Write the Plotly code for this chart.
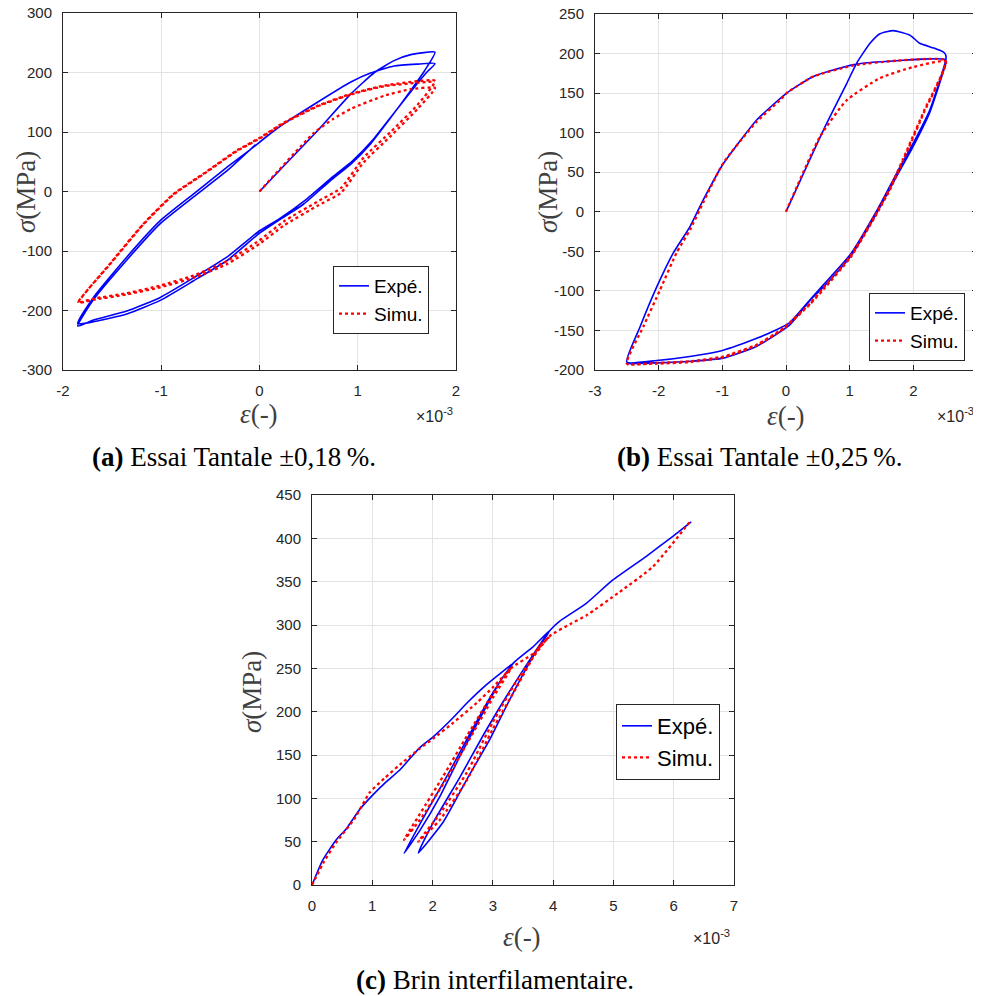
import plotly.graph_objects as go

# strain values are in units of 1e-3, stress in MPa

# (a) Essai Tantale +/-0,18 %
a_exp_eps = [0, 0.3, 0.59, 0.93, 1.17, 1.37, 1.54, 1.786,
             1.68, 1.54, 1.34, 1.13, 0.93, 0.72, 0.45, 0.18, 0.0, -0.33, -0.67, -1.01, -1.35, -1.69, -1.85,
             -1.69, -1.35, -1.01, -0.67, -0.33, -0.09, 0.07, 0.25, 0.59, 0.93, 1.13, 1.37, 1.6, 1.786,
             1.70, 1.56, 1.36, 1.15, 0.95, 0.74, 0.47, 0.2, 0.0, -0.33, -0.67, -1.01, -1.35, -1.69, -1.85,
             -1.7, -1.35, -1.01, -0.67, -0.33, -0.04]
a_exp_sig = [0, 52, 102, 164, 200, 220, 230, 234,
             203, 170, 125, 80, 46, 18, -21, -50, -70, -116, -150, -183, -206, -219, -222,
             -178, -110, -49, -4, 41, 71, 92, 114, 150, 184, 199, 211, 214, 215,
             200, 172, 130, 86, 52, 24, -14, -46, -66, -110, -145, -178, -201, -216, -226,
             -184, -115, -54, -9, 35, 79]

a_sim_eps = [0, 0.55, 0.75, 0.93, 1.27, 1.54, 1.786,
             1.61, 1.34, 1.06, 0.83, 0.59, 0.25, 0.0, -0.33, -0.67, -1.01, -1.35, -1.69, -1.844,
             -1.52, -1.18, -0.874, -0.57, -0.23, 0.0, 0.25, 0.59, 0.93, 1.27, 1.786,
             1.61, 1.34, 1.06, 0.83, 0.59, 0.25, 0.0, -0.33, -0.67, -1.01, -1.35, -1.69, -1.844,
             -1.52, -1.18, -0.874, -0.57, -0.23, 0.0, 0.25, 0.59, 0.93, 1.27, 1.786]
a_sim_sig = [0, 98, 122, 139, 161, 172, 174,
             139, 94, 49, -2, -24, -57, -88, -122, -145, -161, -173, -182, -187,
             -121, -54, -4, 30, 69, 90, 116, 144, 164, 178, 186,
             146, 101, 57, 6, -17, -50, -82, -117, -141, -158, -171, -180, -186,
             -122, -55, -5, 29, 68, 89, 115, 143, 163, 177, 185]

# (b) Essai Tantale +/-0,25 %
b_exp_eps = [0, 0.586, 0.953, 1.11, 1.32, 1.476, 1.686, 1.95, 2.1, 2.32, 2.47, 2.51, 2.51,
             2.45, 2.26, 2.0, 1.74, 1.43, 1.01, 0.59, 0.38, 0.06, -0.2, -0.46, -0.985, -1.51, -2.03, -2.50,
             -2.29, -2.03, -1.77, -1.51, -1.3, -0.99, -0.46, 0.01, 0.43, 1.06, 1.74, 2.51,
             2.45, 2.26, 2.0, 1.74, 1.43, 1.01, 0.59, 0.377, 0.06, -0.46, -0.985, -1.51, -2.03, -2.50]
b_exp_sig = [0, 103, 162, 188, 213, 225, 229, 223, 213, 207, 202, 198, 192,
             175, 129, 87, 49, 2, -54, -92, -111, -140, -151, -160, -175, -183, -188, -190,
             -145, -95, -52, -19, 15, 60, 116, 150, 171, 186, 191, 192,
             172, 126, 83, 45, -1, -57, -95, -112, -143, -170, -185, -189, -191, -192]

b_sim_eps = [0, 0.534, 0.953, 1.476, 2.0, 2.51,
             2.17, 1.9, 1.64, 1.38, 1.01, 0.59, 0.377, -0.04, -0.46, -0.985, -1.51, -2.03, -2.50,
             -2.24, -1.98, -1.72, -1.51, -0.99, -0.46, -0.094, 0.01, 0.43, 1.06, 1.74, 2.51,
             2.17, 1.9, 1.64, 1.38, 1.01, 0.59, 0.377, -0.04, -0.46, -0.985, -1.51, -2.03, -2.50]
b_sim_sig = [0, 95, 141, 169, 183, 190,
             128, 78, 31, -7, -56, -96, -116, -147, -168, -183, -189, -191, -192,
             -145, -99, -52, -23, 61, 114, 141, 150, 171, 185, 191, 191,
             126, 76, 29, -9, -58, -98, -117, -148, -169, -184, -190, -192, -193]

# (c) Brin interfilamentaire
c_exp_eps = [0, 0.18, 0.4, 0.57, 0.79, 1.01, 1.23, 1.46, 1.78, 2.01, 2.34, 2.57, 2.89, 3.12, 3.34,
             3.12, 2.73, 2.45, 2.12, 1.79, 1.526,
             1.9, 2.29, 2.67, 3.0, 3.34,
             3.67, 3.95,
             3.67, 3.28, 2.95, 2.57, 2.18, 1.763,
             2.01, 2.45, 2.9, 3.4, 3.95,
             4.1, 4.55, 4.99, 5.54, 5.98, 6.29]
c_exp_sig = [0, 29, 52, 65, 87, 104, 119, 133, 158, 171, 193, 210, 231, 244, 256,
             235, 185, 148, 102, 63, 36.5,
             84, 132, 181, 222, 256,
             275, 294,
             264, 214, 168, 122, 73, 37,
             72, 124, 180, 237, 294,
             304, 325, 352, 379, 402, 419]

c_sim_eps = [0, 0.2, 0.4, 0.7, 0.96, 1.2, 1.46, 1.78, 2.01, 2.34, 2.73, 3.0, 3.3,
             3.01, 2.57, 2.18, 1.79, 1.526,
             1.79, 2.18, 2.57, 3.01, 3.3,
             3.67, 3.94,
             3.78, 3.4, 3.0, 2.57, 2.12, 1.763,
             2.12, 2.57, 3.0, 3.4, 3.94,
             4.28, 4.55, 5.1, 5.65, 6.29]
c_sim_sig = [0, 27, 49, 76, 107, 123, 139, 157, 169, 187, 210, 228, 250,
             217, 163, 117, 75, 52,
             82, 126, 172, 222, 250,
             267, 287,
             276, 229, 180, 121, 75, 50,
             82, 130, 188, 236, 287,
             301, 311, 338, 367, 421]

# the page body adds an 8 px margin, so the figure is a bit smaller and
# page pixel positions are shifted by that margin
PAD = 8
W, H = 981 - PAD, 996 - PAD


def fx(x):
    return (x - PAD) / W


def fy(y):
    return 1 - (y - PAD) / H


BLUE = "#0000ff"
RED = "#ff0000"
AX = "#262626"

fig = go.Figure()

panels = [
    ("x", "y", "legend", a_exp_eps, a_exp_sig, a_sim_eps, a_sim_sig),
    ("x2", "y2", "legend2", b_exp_eps, b_exp_sig, b_sim_eps, b_sim_sig),
    ("x3", "y3", "legend3", c_exp_eps, c_exp_sig, c_sim_eps, c_sim_sig),
]
for xa, ya, lg, ex, ey, sx, sy in panels:
    fig.add_trace(go.Scatter(x=ex, y=ey, mode="lines", name="Expé.", xaxis=xa, yaxis=ya,
                             legend=lg, line=dict(color=BLUE, width=1.6, shape="spline", smoothing=0.5)))
    fig.add_trace(go.Scatter(x=sx, y=sy, mode="lines", name="Simu.", xaxis=xa, yaxis=ya,
                             legend=lg, line=dict(color=RED, width=2.3, dash="dot",
                                                  shape="spline", smoothing=0.5)))


def axis(domain, rng, step, anchor, standoff):
    vals = list(range(rng[0], rng[1] + 1, step))
    return dict(
        domain=domain, range=rng, anchor=anchor,
        tickvals=vals, ticktext=[str(v) for v in vals],
        showline=True, linecolor=AX, linewidth=1, mirror="ticks",
        ticks="inside", ticklen=5, tickcolor=AX,
        showgrid=True, gridcolor="#e3e3e3", gridwidth=1, zeroline=False,
        tickfont=dict(family="Liberation Sans", size=15, color=AX),
        automargin=False, ticklabelstandoff=standoff, ticklabeloverflow="allow",
    )


def legend(x, y, size):
    return dict(
        x=fx(x), y=fy(y), xanchor="left", yanchor="top",
        bgcolor="white", bordercolor="#262626", borderwidth=1,
        font=dict(family="Liberation Sans", size=size, color="black"),
        itemwidth=30, tracegroupgap=0,
    )


fig.update_layout(
    width=W, height=H,
    margin=dict(l=0, r=0, t=0, b=0),
    paper_bgcolor="white", plot_bgcolor="white",
    xaxis=axis([fx(63), fx(456)], [-2, 2], 1, "y", 7),
    yaxis=axis([fy(370), fy(13)], [-300, 300], 100, "x", 7),
    xaxis2=axis([fx(595), fx(977)], [-3, 3], 1, "y2", 7),
    yaxis2=axis([fy(370), fy(14)], [-200, 250], 50, "x2", 7),
    xaxis3=axis([fx(312), fx(734)], [0, 7], 1, "y3", 7),
    yaxis3=axis([fy(885), fy(495)], [0, 450], 50, "x3", 7),
    legend=legend(333, 266, 19),
    legend2=legend(869, 293, 19),
    legend3=legend(616, 704, 22),
)

LBL = dict(family="Liberation Serif", size=27, color="#404040")
notes = [
    # (x, y, text, angle)
    (26, 192, "<i>σ</i>(MPa)", -90),
    (259, 414, "<i>ε</i>(-)", 0),
    (548, 192, "<i>σ</i>(MPa)", -90),
    (786, 416, "<i>ε</i>(-)", 0),
    (252, 692, "<i>σ</i>(MPa)", -90),
    (522, 937, "<i>ε</i>(-)", 0),
]
for x, y, t, ang in notes:
    fig.add_annotation(x=fx(x), y=fy(y), xref="paper", yref="paper", text=t, showarrow=False,
                       font=LBL, textangle=ang, xanchor="center", yanchor="middle")

EXP = dict(family="Liberation Sans", size=16, color=AX)
for x, y in [(434, 415), (955, 415), (711, 937)]:
    fig.add_annotation(x=fx(x), y=fy(y), xref="paper", yref="paper", text="×10<sup>-3</sup>",
                       showarrow=False, font=EXP, xanchor="center", yanchor="middle")

CAP = dict(family="Liberation Serif", size=27, color="black")
captions = [
    (234, 457, "<b>(a)</b> Essai Tantale ±0,18\u202f%."),
    (760, 457, "<b>(b)</b> Essai Tantale ±0,25\u202f%."),
    (495, 980, "<b>(c)</b> Brin interfilamentaire."),
]
for x, y, t in captions:
    fig.add_annotation(x=fx(x), y=fy(y), xref="paper", yref="paper", text=t, showarrow=False,
                       font=CAP, xanchor="center", yanchor="middle")

fig.write_html("out.html")
